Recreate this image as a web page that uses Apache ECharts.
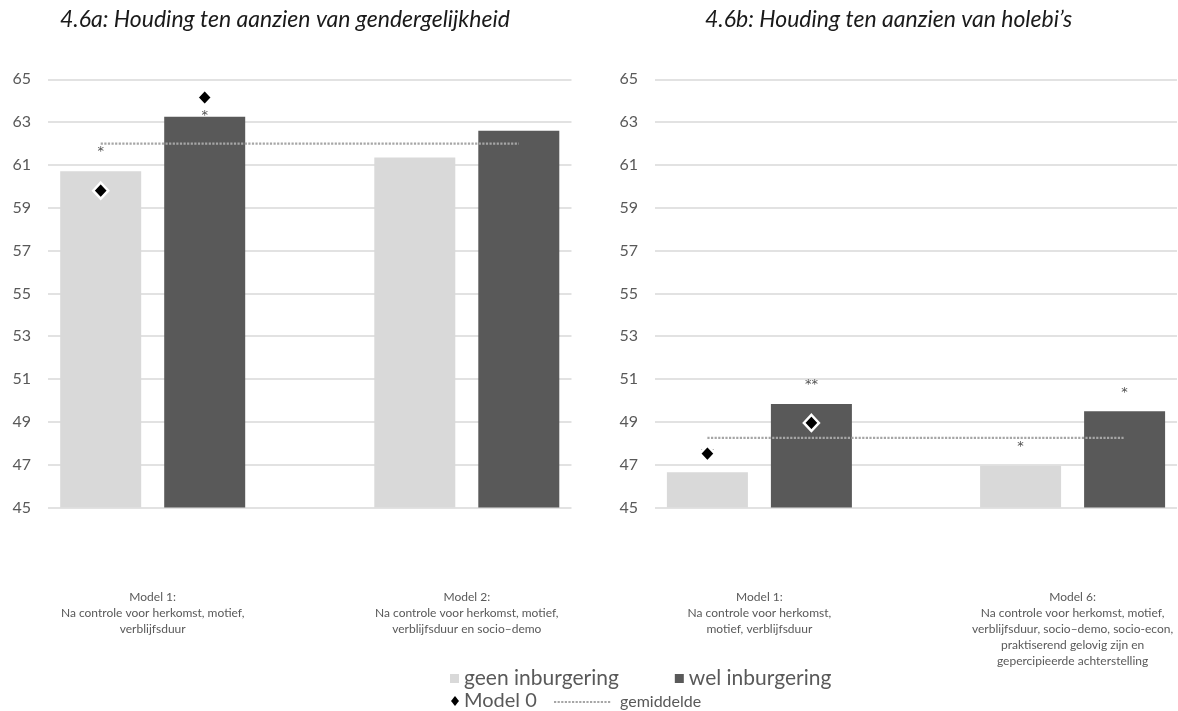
<!DOCTYPE html>
<html>
<head>
<meta charset="utf-8">
<script src="https://cdn.jsdelivr.net/npm/echarts@6/dist/echarts.min.js"></script>
<style>
  html, body { margin: 0; padding: 0; background: #ffffff; }
  #chart { width: 1178px; height: 711px; }
</style>
</head>
<body>
<div id="chart"></div>
<script>
// Figuur 4.6: houding naar inburgering (two panels side by side)

// --- data: panel a (gendergelijkheid) ---
const labelsA = [
  'Model 1:\nNa controle voor herkomst, motief,\nverblijfsduur',
  'Model 2:\nNa controle voor herkomst, motief,\nverblijfsduur en socio–demo'
];
const geenA = [60.7, 61.35];
const welA = [63.25, 62.6];
const model0GeenA = [59.8, null];
const model0WelA = [64.15, null];
const meanA = 62.0;
const starsGeenA = ['*', ''];
const starsWelA = ['*', ''];
const starLevelGeenA = [61.75, null];
const starLevelWelA = [63.45, null];

// --- data: panel b (holebi's) ---
const labelsB = [
  'Model 1:\nNa controle voor herkomst,\nmotief, verblijfsduur',
  'Model 6:\nNa controle voor herkomst, motief,\nverblijfsduur, socio–demo, socio-econ,\npraktiserend gelovig zijn en\ngepercipieerde achterstelling'
];
const geenB = [46.65, 46.95];
const welB = [49.83, 49.5];
const model0GeenB = [47.52, null];
const model0WelB = [48.95, null];
const meanB = 48.25;
const starsGeenB = ['**', '*'];
const starsWelB = ['**', '*'];
const starLevelGeenB = [47.65, 48.0];
const starLevelWelB = [50.86, 50.5];

const titles = [
  '4.6a: Houding ten aanzien van gendergelijkheid',
  '4.6b: Houding ten aanzien van holebi\u2019s'
];
const Y_MIN = 45, Y_MAX = 65, Y_STEP = 2;

// --- layout / style ---
const FONT = 'Lato, "Open Sans", sans-serif';
const GREY_TEXT = '#595959';
const C_GEEN = '#d9d9d9';
const C_WEL = '#595959';
const BAR_W = 81;
const BAR_GAP = 23;
const X_MIN = -1 / 3, X_MAX = 4 / 3;
const panels = [
  { left: 48, width: 523.5, titleLeft: 55 },
  { left: 655, width: 522, titleLeft: 700 }
];
const GRID_TOP = 79.3, GRID_BOTTOM = 203.5;

const panelData = [
  { labels: labelsA, geen: geenA, wel: welA, m0g: model0GeenA, m0w: model0WelA, mean: meanA,
    sg: starsGeenA, sw: starsWelA, lg: starLevelGeenA, lw: starLevelWelA },
  { labels: labelsB, geen: geenB, wel: welB, m0g: model0GeenB, m0w: model0WelB, mean: meanB,
    sg: starsGeenB, sw: starsWelB, lg: starLevelGeenB, lw: starLevelWelB }
];

const grid = [], xAxis = [], yAxis = [], series = [];

panelData.forEach((d, p) => {
  const pan = panels[p];
  grid.push({ left: pan.left, width: pan.width, top: GRID_TOP, bottom: GRID_BOTTOM });
  // half distance between the two bars of a cluster, in axis units
  const off = (BAR_W + BAR_GAP) / 2 / (pan.width / (X_MAX - X_MIN));

  xAxis.push({
    type: 'value', gridIndex: p, min: X_MIN, max: X_MAX,
    axisLine: { show: false }, axisTick: { show: false }, splitLine: { show: false },
    axisLabel: {
      customValues: d.labels.map((_, i) => i),
      formatter: v => d.labels[Math.round(v)] || '',
      color: GREY_TEXT, fontFamily: FONT, fontSize: 12, lineHeight: 16,
      margin: 82, align: 'center', verticalAlign: 'top'
    }
  });
  yAxis.push({
    type: 'value', gridIndex: p, min: Y_MIN, max: Y_MAX, interval: Y_STEP,
    axisLine: { show: false }, axisTick: { show: false },
    splitLine: { lineStyle: { color: '#d9d9d9', width: 1.5 } },
    axisLabel: { color: GREY_TEXT, fontFamily: FONT, fontSize: 16, margin: 17 }
  });

  const idx = d.labels.map((_, i) => i);
  series.push({
    name: 'geen inburgering', type: 'bar', xAxisIndex: p, yAxisIndex: p,
    barWidth: BAR_W, barGap: (BAR_GAP / BAR_W * 100) + '%',
    itemStyle: { color: C_GEEN },
    data: idx.map(i => [i, d.geen[i]])
  });
  series.push({
    name: 'wel inburgering', type: 'bar', xAxisIndex: p, yAxisIndex: p,
    barWidth: BAR_W, barGap: (BAR_GAP / BAR_W * 100) + '%',
    itemStyle: { color: C_WEL },
    data: idx.map(i => [i, d.wel[i]])
  });
  series.push({
    name: 'gemiddelde', type: 'line', xAxisIndex: p, yAxisIndex: p,
    symbol: 'none', silent: true, z: 3,
    itemStyle: { color: '#a6a6a6' },
    lineStyle: { color: '#a6a6a6', width: 2.2, type: [2.2, 1.4] },
    data: [[idx[0] - off, d.mean], [idx[idx.length - 1] + off, d.mean]]
  });
  // significance stars
  const starPts = [];
  idx.forEach(i => {
    if (d.sg[i]) starPts.push({ value: [i - off, d.lg[i]], txt: d.sg[i] });
    if (d.sw[i]) starPts.push({ value: [i + off, d.lw[i]], txt: d.sw[i] });
  });
  series.push({
    name: 'sig', type: 'scatter', xAxisIndex: p, yAxisIndex: p, symbolSize: 0, silent: true, z: 3,
    label: {
      show: true, position: 'inside', offset: [0, 3],
      formatter: prm => prm.data.txt, color: '#262626', fontSize: 13, fontFamily: 'DejaVu Sans'
    },
    data: starPts
  });
  const m0 = [];
  idx.forEach(i => {
    if (d.m0g[i] != null) m0.push([i - off, d.m0g[i]]);
    if (d.m0w[i] != null) m0.push([i + off, d.m0w[i]]);
  });
  series.push({
    name: 'Model 0', type: 'scatter', xAxisIndex: p, yAxisIndex: p, z: 4,
    symbol: 'diamond', symbolSize: [15, 16],
    itemStyle: { color: '#000000', opacity: 1, borderColor: '#ffffff', borderWidth: 2.5 },
    data: m0
  });
});

const chart = echarts.init(document.getElementById('chart'), null, { renderer: 'canvas' });
chart.setOption({
  backgroundColor: '#ffffff',
  animation: false,
  title: titles.map((t, p) => ({
    text: t, left: panels[p].titleLeft, top: 3,
    textStyle: { fontFamily: FONT, fontStyle: 'italic', fontWeight: 'normal', fontSize: 23, color: '#1a1a1a' }
  })),
  legend: [
    {
      data: ['geen inburgering', 'wel inburgering'],
      left: 445, top: 663, icon: 'rect', itemWidth: 9, itemHeight: 9, itemGap: 56,
      selectedMode: false,
      textStyle: { color: GREY_TEXT, fontFamily: FONT, fontSize: 21 }
    },
    {
      data: [{ name: 'Model 0', icon: 'diamond' }],
      left: 446, top: 686, itemWidth: 8, itemHeight: 10, selectedMode: false,
      itemStyle: { borderWidth: 0, color: '#000000' },
      textStyle: { color: GREY_TEXT, fontFamily: FONT, fontSize: 20 }
    },
    {
      data: ['gemiddelde'], left: 548, top: 689, itemWidth: 57, itemHeight: 10, selectedMode: false,
      itemStyle: { opacity: 0 },
      textStyle: { color: GREY_TEXT, fontFamily: FONT, fontSize: 16, padding: [0, 0, 0, 4] }
    }
  ],
  grid: grid,
  xAxis: xAxis,
  yAxis: yAxis,
  series: series
});
</script>
</body>
</html>
